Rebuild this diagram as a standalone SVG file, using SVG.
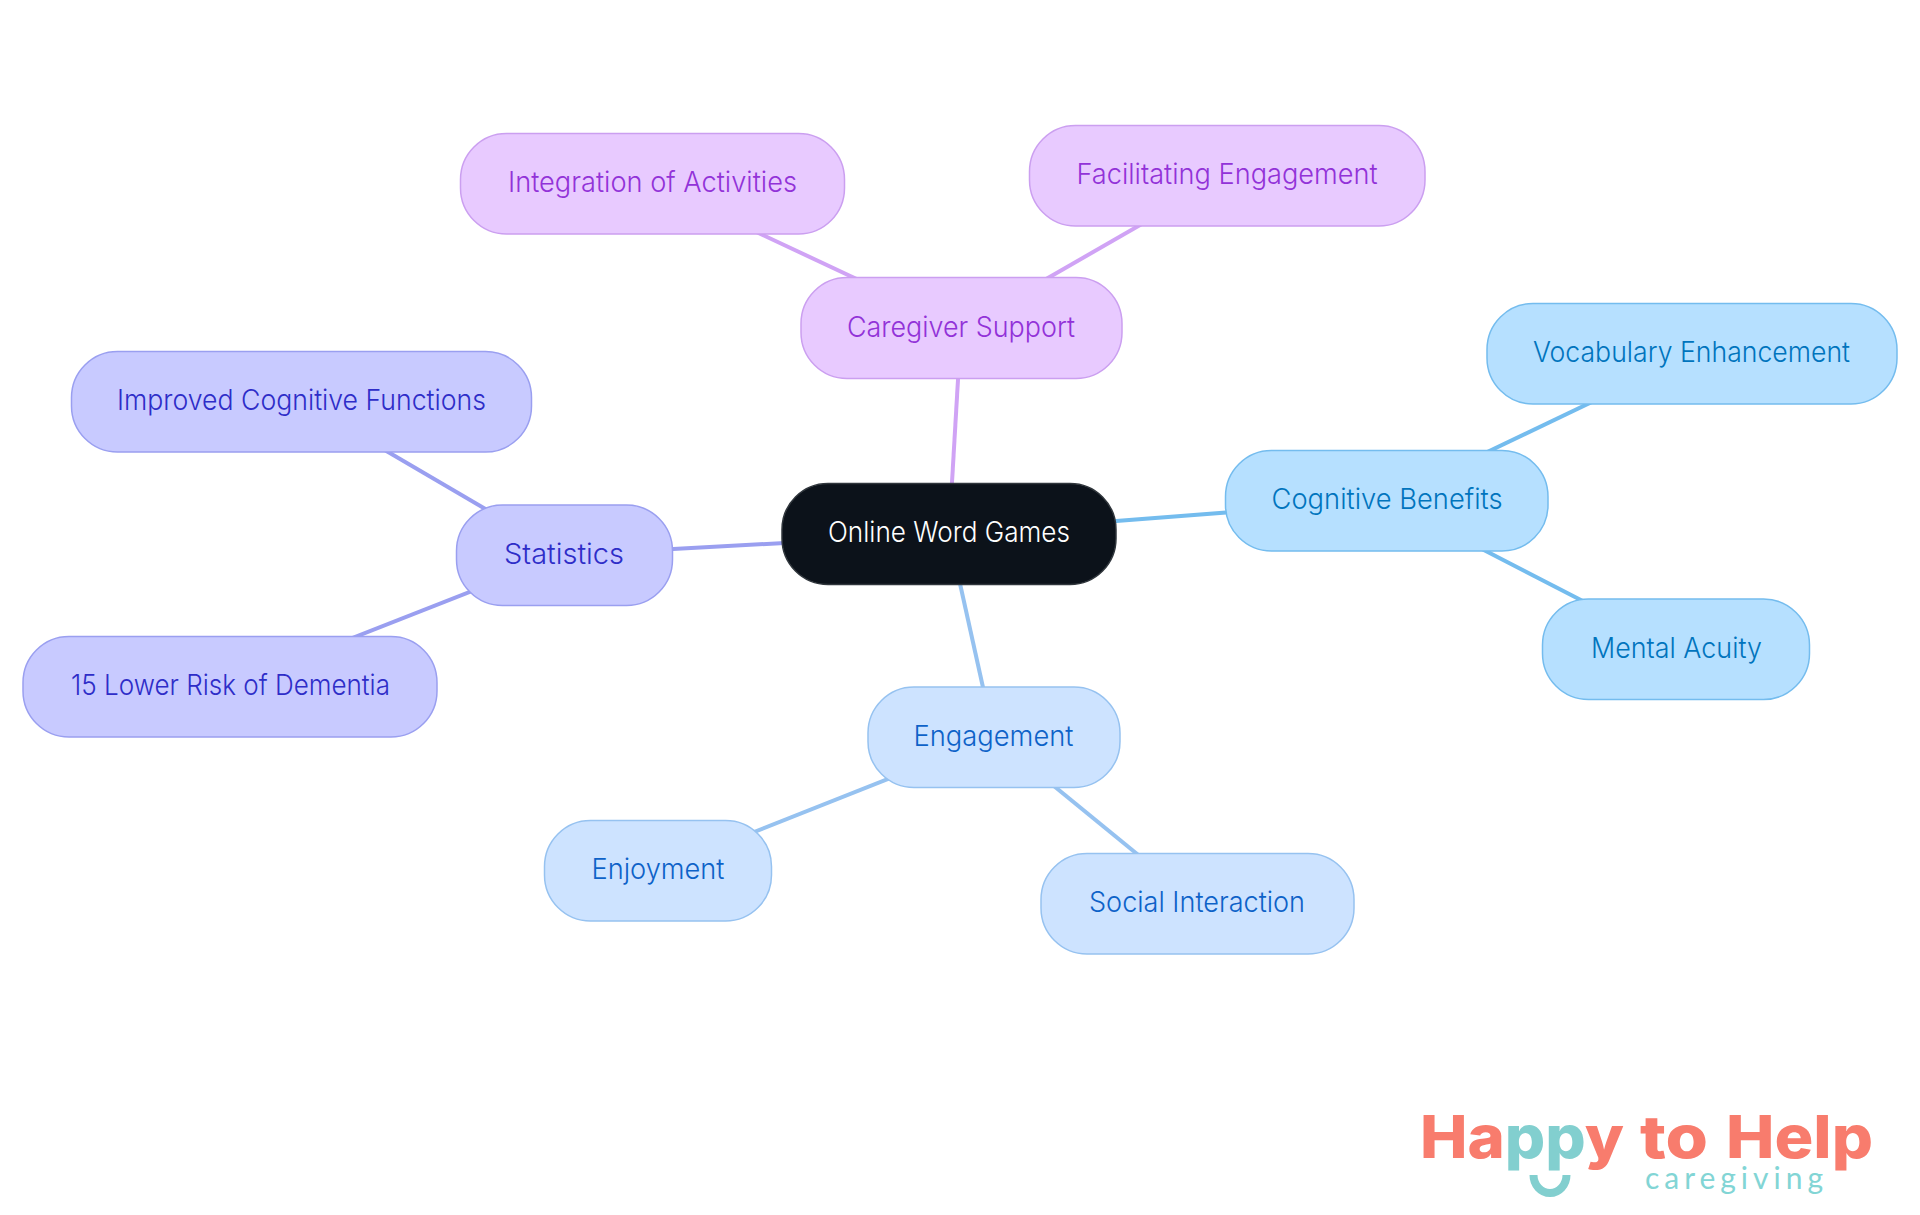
<svg xmlns="http://www.w3.org/2000/svg" width="1920" height="1215" viewBox="0 0 1920 1215">
<style>
text{font-family:"Inter","Noto Sans","Liberation Sans",sans-serif;font-size:28px;font-weight:350;text-anchor:middle}
.n{stroke-width:1.5}
.c{fill:none;stroke-width:4}
.root rect{fill:#0c121a;stroke:#30363c}.root text{fill:#fff}
.pu rect{fill:#e8caff;stroke:#cb9ff0}.pu text{fill:#9232d8}
.sk rect{fill:#b6e0ff;stroke:#74bcee}.sk text{fill:#0074bd}
.bl rect{fill:#cde3ff;stroke:#96c2f0}.bl text{fill:#0d62c8}
.in rect{fill:#c8caff;stroke:#9a9ff0}.in text{fill:#2e2dc8}
text.logo{font-family:"Inter","Liberation Sans",sans-serif;font-weight:800;font-size:59px;text-anchor:start;fill:#f87c6d}
.teal{fill:#82cfcf}
text.cg{font-family:"Lato","Liberation Sans",sans-serif;font-weight:400;font-size:30px;text-anchor:start;fill:#82d5d5}
</style>
<rect width="1920" height="1215" fill="#fff"/>
<g id="connectors">
<g class="c" stroke="#d0a3f5"><path d="M949 534L961 328"/><path d="M961 328L652 183"/><path d="M961 328L1227 175"/></g>
<g class="c" stroke="#74bcee"><path d="M949 534L1387 500"/><path d="M1387 500L1692 354"/><path d="M1387 500L1676 649"/></g>
<g class="c" stroke="#96c2f0"><path d="M949 534L994 737"/><path d="M994 737L658 870"/><path d="M994 737L1197 903"/></g>
<g class="c" stroke="#9a9ff0"><path d="M949 534L564 555"/><path d="M564 555L301 401"/><path d="M564 555L230 686"/></g>
</g>
<g id="root" class="root"><rect class="n" x="782" y="483.500" width="334" height="101" rx="46"/><text x="949" y="541.500" textLength="242" lengthAdjust="spacingAndGlyphs">Online Word Games</text></g>
<g id="caregiver" class="pu"><rect class="n" x="801" y="277.500" width="321" height="101" rx="46"/><text x="961" y="336.500" textLength="228" lengthAdjust="spacingAndGlyphs">Caregiver Support</text></g>
<g id="integration" class="pu"><rect class="n" x="460.500" y="133.500" width="384" height="100.500" rx="46"/><text x="652.500" y="191.500" textLength="289" lengthAdjust="spacingAndGlyphs">Integration of Activities</text></g>
<g id="facilitating" class="pu"><rect class="n" x="1029.500" y="125.500" width="395.500" height="100.500" rx="46"/><text x="1227" y="183.500" textLength="301" lengthAdjust="spacingAndGlyphs">Facilitating Engagement</text></g>
<g id="cognitive" class="sk"><rect class="n" x="1225.500" y="450.500" width="322.500" height="100.500" rx="46"/><text x="1387" y="508.500" textLength="231" lengthAdjust="spacingAndGlyphs">Cognitive Benefits</text></g>
<g id="vocabulary" class="sk"><rect class="n" x="1487" y="303.500" width="410" height="100.500" rx="46"/><text x="1691.500" y="361.500" textLength="317" lengthAdjust="spacingAndGlyphs">Vocabulary Enhancement</text></g>
<g id="mental" class="sk"><rect class="n" x="1542.500" y="599" width="267" height="100.500" rx="46"/><text x="1676.500" y="657.500" textLength="171" lengthAdjust="spacingAndGlyphs">Mental Acuity</text></g>
<g id="engagement" class="bl"><rect class="n" x="868" y="687" width="252" height="100.500" rx="46"/><text x="993.500" y="745.500" textLength="160" lengthAdjust="spacingAndGlyphs">Engagement</text></g>
<g id="enjoyment" class="bl"><rect class="n" x="544.500" y="820.500" width="227" height="100.500" rx="46"/><text x="658" y="878.500" textLength="133" lengthAdjust="spacingAndGlyphs">Enjoyment</text></g>
<g id="social" class="bl"><rect class="n" x="1041" y="853.500" width="313" height="100.500" rx="46"/><text x="1197" y="911.500" textLength="216" lengthAdjust="spacingAndGlyphs">Social Interaction</text></g>
<g id="statistics" class="in"><rect class="n" x="456.500" y="505" width="216" height="100.500" rx="46"/><text x="564" y="563.500" textLength="120" lengthAdjust="spacingAndGlyphs">Statistics</text></g>
<g id="improved" class="in"><rect class="n" x="71.500" y="351.500" width="460" height="100.500" rx="46"/><text x="301.500" y="409.500" textLength="369" lengthAdjust="spacingAndGlyphs">Improved Cognitive Functions</text></g>
<g id="lower" class="in"><rect class="n" x="23" y="636.500" width="414" height="100.500" rx="46"/><text x="230.500" y="694.500" textLength="319" lengthAdjust="spacingAndGlyphs">15 Lower Risk of Dementia</text></g>
<g id="logo">
<text class="logo" x="1420" y="1158" textLength="204" lengthAdjust="spacingAndGlyphs">Ha<tspan class="teal">pp</tspan>y</text>
<text class="logo" x="1640" y="1158" textLength="68" lengthAdjust="spacingAndGlyphs">to</text>
<text class="logo" x="1726" y="1158" textLength="147" lengthAdjust="spacingAndGlyphs">Help</text>
<text class="cg" x="1645" y="1189" textLength="178" lengthAdjust="spacing">caregiving</text>
<path d="M1533.500 1175a16.500 18 0 0 0 33 0" fill="none" stroke="#82cfcf" stroke-width="8"/>
</g>
</svg>
